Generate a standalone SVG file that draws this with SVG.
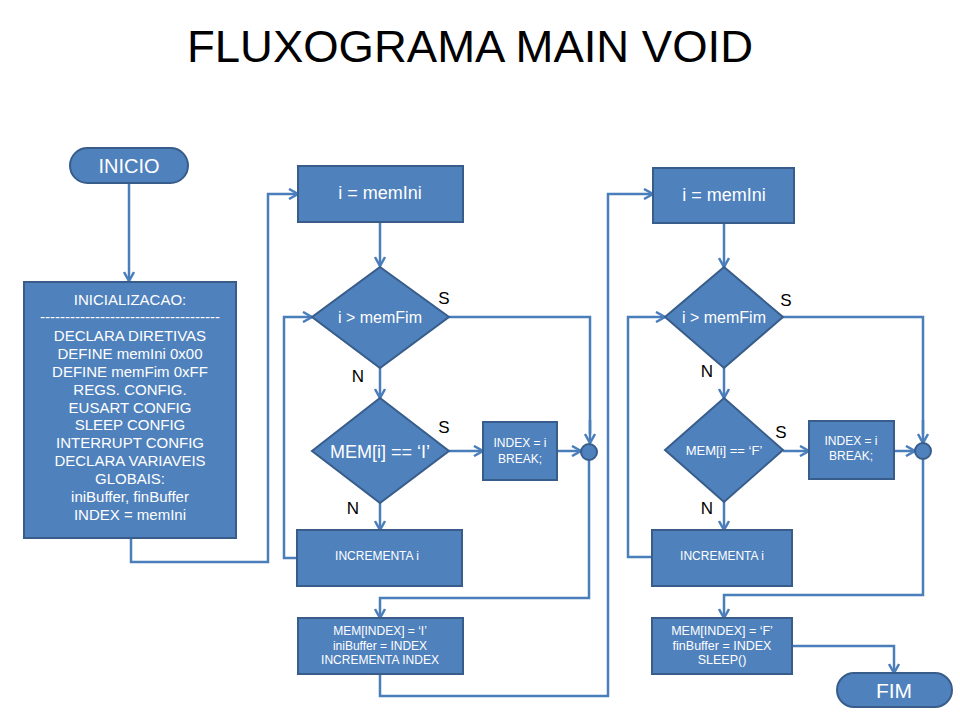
<svg xmlns="http://www.w3.org/2000/svg" width="960" height="720" viewBox="0 0 960 720">
<defs>
<marker id="arr" markerUnits="userSpaceOnUse" markerWidth="12" markerHeight="12" refX="10" refY="6" orient="auto">
<path d="M1,1 L10,6 L1,11" fill="none" stroke="#4A7EBB" stroke-width="2.5"/>
</marker>
<style>
.n{fill:#4F81BD;stroke:#385D8A;stroke-width:2}
.t{fill:#fff;font-family:"Liberation Sans",Arial,sans-serif;text-anchor:middle}
.l{fill:#000;font-family:"Liberation Sans",Arial,sans-serif;font-size:17px;text-anchor:middle}
.c{fill:none;stroke:#4A7EBB;stroke-width:2.5}
.ca{fill:none;stroke:#4A7EBB;stroke-width:2.5;marker-end:url(#arr)}
</style>
</defs>
<rect width="960" height="720" fill="#fff"/>
<text x="470" y="62" font-family="'Liberation Sans',Arial,sans-serif" font-size="44" text-anchor="middle" textLength="566" lengthAdjust="spacingAndGlyphs">FLUXOGRAMA MAIN VOID</text>

<g id="connectors">
<path class="ca" d="M129,183 V281"/>
<path class="ca" d="M131,538 V562 H268 V194 H298"/>
<path class="ca" d="M380,222 V266"/>
<path class="c" d="M449,317 H590 V434"/>
<path class="ca" d="M590,420 V443"/>
<path class="ca" d="M380,368 V398"/>
<path class="ca" d="M449,451 H483"/>
<path class="ca" d="M557,451 H581"/>
<path class="ca" d="M380,502 V530"/>
<path class="ca" d="M297,558 H284 V317 H312"/>
<path class="ca" d="M589,460 V598 H380 V618"/>
<path class="ca" d="M380,674 V696 H608 V194 H653"/>
<path class="ca" d="M724,223 V267"/>
<path class="c" d="M783,317 H923 V434"/>
<path class="ca" d="M923,420 V443"/>
<path class="ca" d="M724,368 V398"/>
<path class="ca" d="M783,451 H809"/>
<path class="ca" d="M894,451 H915"/>
<path class="ca" d="M724,502 V530"/>
<path class="ca" d="M652,557 H628 V317 H665"/>
<path class="ca" d="M923,459 V595 H724 V618"/>
<path class="ca" d="M792,646 H894 V673"/>
</g>

<g id="inicio">
<rect class="n" x="70" y="148" width="118" height="35" rx="17.5"/>
<text class="t" x="129" y="173" font-size="20">INICIO</text>
</g>

<g id="init">
<rect class="n" x="24" y="282" width="212" height="256"/>
<g class="t" font-size="15">
<text x="130" y="305">INICIALIZACAO:</text>
<text x="130" y="322">------------------------------------</text>
<text x="130" y="341">DECLARA DIRETIVAS</text>
<text x="130" y="359">DEFINE memIni 0x00</text>
<text x="130" y="377">DEFINE memFim 0xFF</text>
<text x="130" y="395">REGS. CONFIG.</text>
<text x="130" y="413">EUSART CONFIG</text>
<text x="130" y="430">SLEEP CONFIG</text>
<text x="130" y="448">INTERRUPT CONFIG</text>
<text x="130" y="466">DECLARA VARIAVEIS</text>
<text x="130" y="484">GLOBAIS:</text>
<text x="130" y="502">iniBuffer, finBuffer</text>
<text x="130" y="520">INDEX = memIni</text>
</g>
</g>

<g id="ini1">
<rect class="n" x="298" y="166" width="165" height="56"/>
<text class="t" x="380" y="199" font-size="18">i = memIni</text>
</g>

<g id="dec1">
<polygon class="n" points="380,267 449,317 380,368 312,317"/>
<text class="t" x="380" y="323" font-size="16">i &gt; memFim</text>
<text class="l" x="444" y="304">S</text>
<text class="l" x="358" y="382">N</text>
</g>

<g id="dec2">
<polygon class="n" points="380,398 449,451 380,503 312,451"/>
<text class="t" x="380" y="458" font-size="18">MEM[i] == ‘I’</text>
<text class="l" x="444" y="433">S</text>
<text class="l" x="353" y="514">N</text>
</g>

<g id="break1">
<rect class="n" x="483" y="422" width="74" height="58"/>
<text class="t" x="520" y="447" font-size="12">INDEX = i</text>
<text class="t" x="520" y="463" font-size="12">BREAK;</text>
</g>

<g id="join1">
<circle class="n" cx="589" cy="452" r="8"/>
</g>

<g id="inc1">
<rect class="n" x="297" y="530" width="165" height="56"/>
<text class="t" x="377" y="560" font-size="12">INCREMENTA i</text>
</g>

<g id="set1">
<rect class="n" x="298" y="618" width="165" height="56"/>
<text class="t" x="380" y="635" font-size="12">MEM[INDEX] = ‘I’</text>
<text class="t" x="380" y="650" font-size="12">iniBuffer = INDEX</text>
<text class="t" x="380" y="664" font-size="12">INCREMENTA INDEX</text>
</g>

<g id="ini2">
<rect class="n" x="653" y="168" width="141" height="55"/>
<text class="t" x="724" y="201" font-size="18">i = memIni</text>
</g>

<g id="dec3">
<polygon class="n" points="724,267 783,317 724,368 665,317"/>
<text class="t" x="724" y="323" font-size="16">i &gt; memFim</text>
<text class="l" x="786" y="306">S</text>
<text class="l" x="707" y="377">N</text>
</g>

<g id="dec4">
<polygon class="n" points="724,398 783,450 724,502 665,450"/>
<text class="t" x="724" y="455" font-size="13">MEM[i] == ‘F’</text>
<text class="l" x="781" y="438">S</text>
<text class="l" x="707" y="514">N</text>
</g>

<g id="break2">
<rect class="n" x="809" y="421" width="85" height="58"/>
<text class="t" x="851" y="445" font-size="12">INDEX = i</text>
<text class="t" x="851" y="460" font-size="12">BREAK;</text>
</g>

<g id="join2">
<circle class="n" cx="923" cy="451" r="8"/>
</g>

<g id="inc2">
<rect class="n" x="652" y="530" width="140" height="56"/>
<text class="t" x="722" y="560" font-size="12">INCREMENTA i</text>
</g>

<g id="set2">
<rect class="n" x="652" y="618" width="140" height="56"/>
<text class="t" x="722" y="635" font-size="12.5">MEM[INDEX] = ‘F’</text>
<text class="t" x="722" y="650" font-size="12.5">finBuffer = INDEX</text>
<text class="t" x="722" y="664" font-size="12.5">SLEEP()</text>
</g>

<g id="fim">
<rect class="n" x="837" y="673" width="115" height="34" rx="17"/>
<text class="t" x="894" y="698" font-size="21">FIM</text>
</g>
</svg>
